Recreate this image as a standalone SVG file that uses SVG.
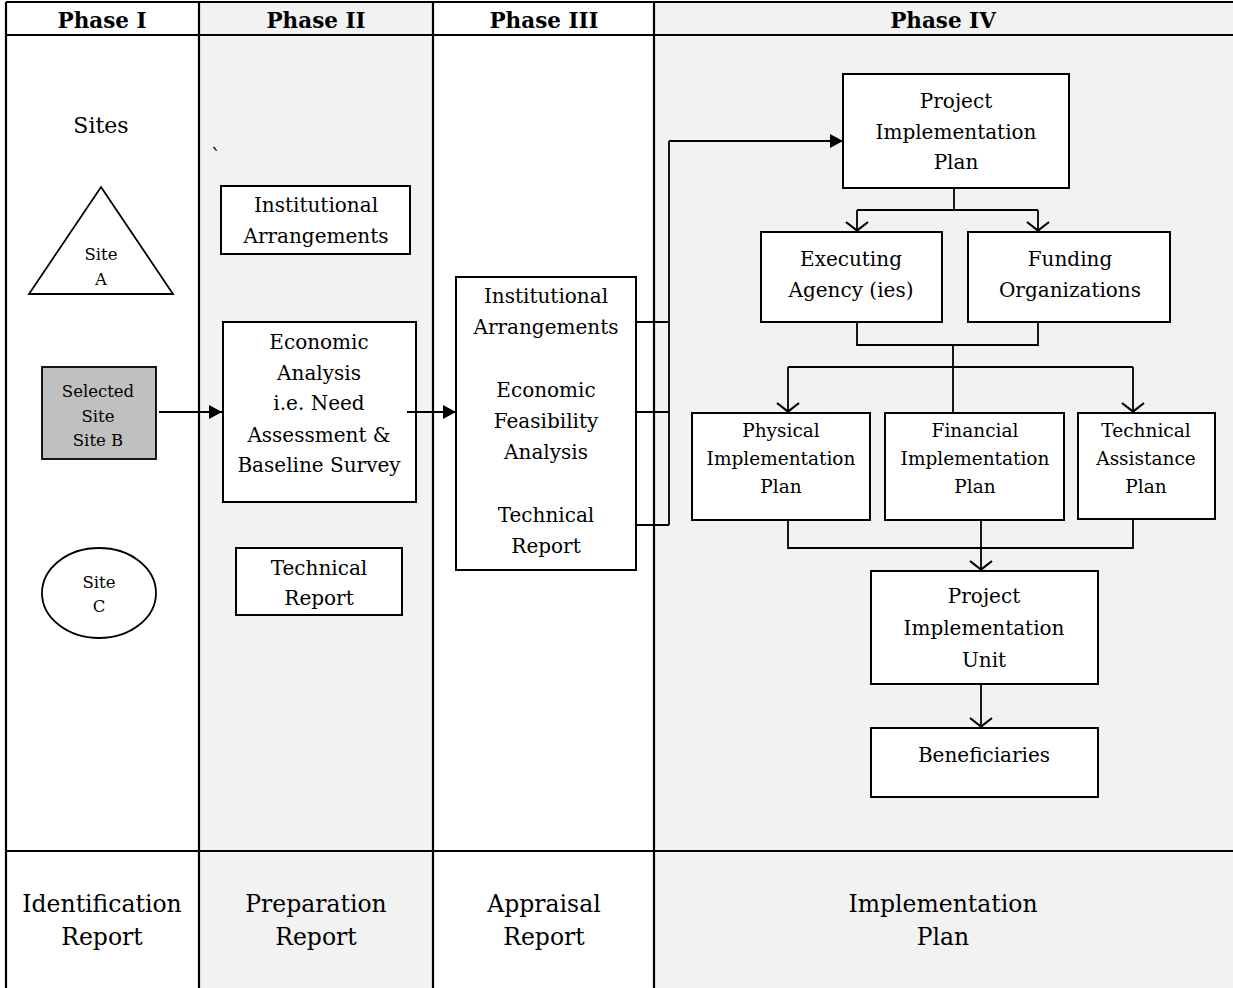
<svg xmlns="http://www.w3.org/2000/svg" width="1233" height="988" viewBox="0 0 1233 988">
<style>
text{font-family:"DejaVu Serif","Liberation Serif",serif;fill:#000;text-anchor:middle}
.h{font-weight:bold;font-size:21.5px}
.t{font-size:20px}
.s{font-size:18.5px}
.x{font-size:16.5px}
.b{font-size:23.5px}
.box{fill:#fff;stroke:#000;stroke-width:2}
.grid{stroke:#000;stroke-width:2.2;fill:none}
.c{stroke:#000;stroke-width:1.8;fill:none}
</style>
<defs>
<marker id="tri" markerUnits="userSpaceOnUse" markerWidth="16" markerHeight="16" viewBox="-14 -8 16 16" refX="0" refY="0" orient="auto"><path d="M0,0 L-13,-7 L-13,7 Z" fill="#000"/></marker>
<marker id="st" markerUnits="userSpaceOnUse" markerWidth="26" markerHeight="26" viewBox="-13 -13 26 26" refX="0" refY="0" orient="auto"><path d="M-9,-11 L-0.5,0 L-9,11" fill="none" stroke="#000" stroke-width="2.2"/></marker>
</defs>
<rect x="0" y="0" width="1233" height="988" fill="#fff"/>
<rect x="199" y="2" width="234" height="986" fill="#f2f2f2"/>
<rect x="654" y="2" width="579" height="986" fill="#f2f2f2"/>
<g id="grid">
<path class="grid" d="M6,2 H1233 M6,35 H1233 M6,851 H1233 M6,2 V988 M199,2 V988 M433,2 V988 M654,2 V988"/>
</g>
<g id="headers">
<text class="h" x="102" y="28">Phase I</text>
<text class="h" x="316" y="28">Phase II</text>
<text class="h" x="544" y="28">Phase III</text>
<text class="h" x="943" y="28">Phase IV</text>
</g>
<g id="footers">
<text class="b" x="102" y="912">Identification</text><text class="b" x="102" y="945">Report</text>
<text class="b" x="316" y="912">Preparation</text><text class="b" x="316" y="945">Report</text>
<text class="b" x="544" y="912">Appraisal</text><text class="b" x="544" y="945">Report</text>
<text class="b" x="943" y="912">Implementation</text><text class="b" x="943" y="945">Plan</text>
</g>
<g id="sites-label"><text x="101" y="133" style="font-size:22px">Sites</text></g>
<g id="stray"><text class="t" x="216" y="164">`</text></g>
<g id="site-a">
<polygon points="101,187 173,294 29,294" fill="#fff" stroke="#000" stroke-width="1.8"/>
<text class="x" x="101" y="260">Site</text><text class="x" x="101" y="285">A</text>
</g>
<g id="site-b">
<rect x="42" y="367" width="114" height="92" fill="#c0c0c0" stroke="#000" stroke-width="1.8"/>
<text class="x" x="98" y="397">Selected</text><text class="x" x="98" y="422">Site</text><text class="x" x="98" y="446">Site B</text>
</g>
<g id="site-c">
<ellipse cx="99" cy="593" rx="57" ry="45" fill="#fff" stroke="#000" stroke-width="1.8"/>
<text class="x" x="99" y="588">Site</text><text class="x" x="99" y="612">C</text>
</g>
<g id="p2-inst">
<rect class="box" x="221" y="186" width="189" height="68"/>
<text class="t" x="316" y="212">Institutional</text><text class="t" x="316" y="243">Arrangements</text>
</g>
<g id="p2-econ">
<rect class="box" x="223" y="322" width="193" height="180"/>
<text class="t" x="319" y="349">Economic</text><text class="t" x="319" y="380">Analysis</text><text class="t" x="319" y="410">i.e. Need</text><text class="t" x="319" y="442">Assessment &amp;</text><text class="t" x="319" y="472">Baseline Survey</text>
</g>
<g id="p2-tech">
<rect class="box" x="236" y="548" width="166" height="67"/>
<text class="t" x="319" y="575">Technical</text><text class="t" x="319" y="605">Report</text>
</g>
<g id="p3-box">
<rect class="box" x="456" y="277" width="180" height="293"/>
<text class="t" x="546" y="303">Institutional</text><text class="t" x="546" y="334">Arrangements</text>
<text class="t" x="546" y="397">Economic</text><text class="t" x="546" y="428">Feasibility</text><text class="t" x="546" y="459">Analysis</text>
<text class="t" x="546" y="522">Technical</text><text class="t" x="546" y="553">Report</text>
</g>
<g id="pip">
<rect class="box" x="843" y="74" width="226" height="114"/>
<text class="t" x="956" y="108">Project</text><text class="t" x="956" y="139">Implementation</text><text class="t" x="956" y="169">Plan</text>
</g>
<g id="executing">
<rect class="box" x="761" y="232" width="181" height="90"/>
<text class="t" x="851" y="266">Executing</text><text class="t" x="851" y="297">Agency (ies)</text>
</g>
<g id="funding">
<rect class="box" x="968" y="232" width="202" height="90"/>
<text class="t" x="1070" y="266">Funding</text><text class="t" x="1070" y="297">Organizations</text>
</g>
<g id="physical">
<rect class="box" x="692" y="413" width="178" height="107"/>
<text class="s" x="781" y="437">Physical</text><text class="s" x="781" y="465">Implementation</text><text class="s" x="781" y="493">Plan</text>
</g>
<g id="financial">
<rect class="box" x="885" y="413" width="179" height="107"/>
<text class="s" x="975" y="437">Financial</text><text class="s" x="975" y="465">Implementation</text><text class="s" x="975" y="493">Plan</text>
</g>
<g id="technical">
<rect class="box" x="1078" y="413" width="137" height="106"/>
<text class="s" x="1146" y="437">Technical</text><text class="s" x="1146" y="465">Assistance</text><text class="s" x="1146" y="493">Plan</text>
</g>
<g id="piu">
<rect class="box" x="871" y="571" width="227" height="113"/>
<text class="t" x="984" y="603">Project</text><text class="t" x="984" y="635">Implementation</text><text class="t" x="984" y="667">Unit</text>
</g>
<g id="beneficiaries">
<rect class="box" x="871" y="728" width="227" height="69"/>
<text class="t" x="984" y="762">Beneficiaries</text>
</g>
<g id="connectors">
<path class="c" d="M159,412 H222" marker-end="url(#tri)"/>
<path class="c" d="M407,412 H456" marker-end="url(#tri)"/>
<path class="c" d="M636,322 H669 M636,412 H669 M636,525 H669 M669,525 V141"/>
<path class="c" d="M669,141 H843" marker-end="url(#tri)"/>
<path class="c" d="M954,188 V210 M857,210 H1038"/>
<path class="c" d="M857,210 V231" marker-end="url(#st)"/>
<path class="c" d="M1038,210 V231" marker-end="url(#st)"/>
<path class="c" d="M857,322 V345 H1038 V322 M953,345 V413 M788,367 H1133"/>
<path class="c" d="M788,367 V412" marker-end="url(#st)"/>
<path class="c" d="M1133,367 V412" marker-end="url(#st)"/>
<path class="c" d="M788,520 V548 H1133 V519"/>
<path class="c" d="M981,520 V570" marker-end="url(#st)"/>
<path class="c" d="M981,684 V727" marker-end="url(#st)"/>
</g>
</svg>
